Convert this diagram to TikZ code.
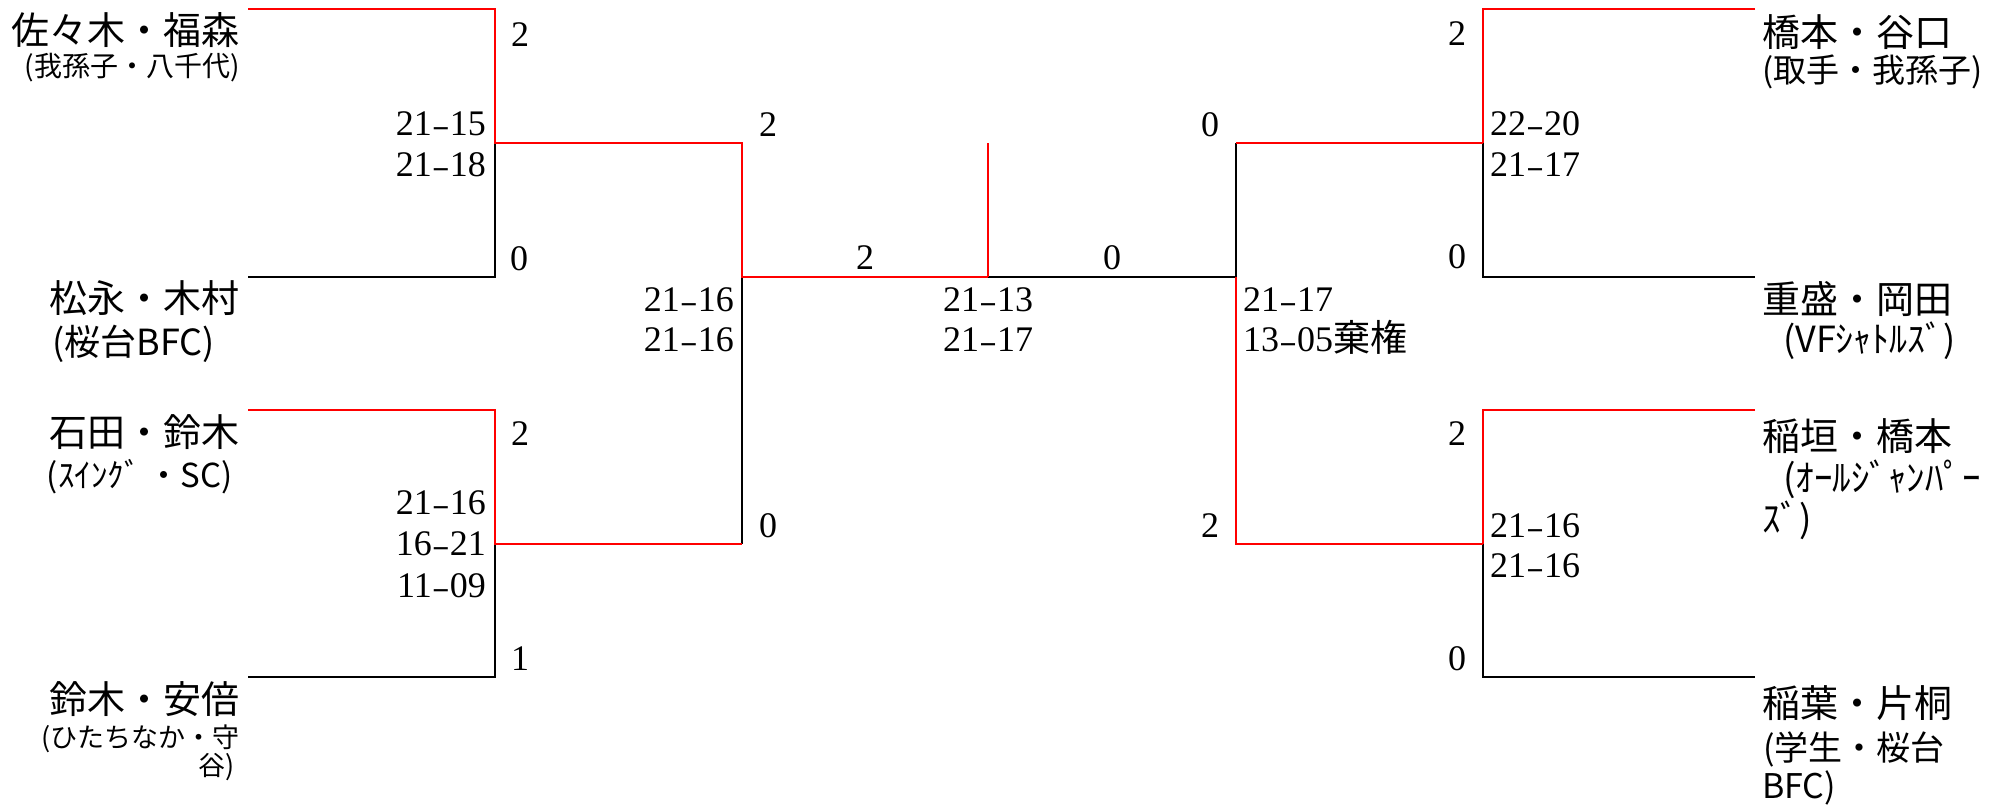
\documentclass[tikz,border=0pt]{standalone}
\usepackage{fontspec}
\setmainfont{Liberation Serif}
\newfontfamily\jp{Noto Sans CJK JP}
\newcommand\hy{\makebox[0.5em]{\scalebox{1.5}[0.8]{-}}}
\tikzset{
  ln/.style={line width=2pt, line join=miter},
  win/.style={ln, draw=red},
  lose/.style={ln, draw=black},
  thinwin/.style={line width=1.3pt, draw=red},
  nm/.style={inner sep=0pt, font=\jp\fontsize{38}{40}\selectfont},
  sub/.style={inner sep=0pt, font=\jp\fontsize{#1}{#1}\selectfont},
  sc/.style={inner sep=0pt, font=\fontsize{36}{40}\selectfont},
}
\begin{document}
\begin{tikzpicture}[x=1pt,y=-1pt]
\fill[white] (0,0) rectangle (2015,806);
\useasboundingbox (0,0) rectangle (2015,806);
% corner coordinates
\coordinate (a1) at (248,9);   \coordinate (a2) at (495,9);
\coordinate (a3) at (495,143); \coordinate (a4) at (495,277);
\coordinate (a5) at (248,277);
\coordinate (b1) at (248,410); \coordinate (b2) at (495,410);
\coordinate (b3) at (495,544); \coordinate (b4) at (495,677);
\coordinate (b5) at (248,677);
\coordinate (m1) at (742,143); \coordinate (m2) at (742,277);
\coordinate (m3) at (742,544);
\coordinate (f1) at (988,143); \coordinate (f2) at (988,277);
\coordinate (n1) at (1236,143); \coordinate (n2) at (1236,277);
\coordinate (n3) at (1236,544);
\coordinate (d1) at (1755,9);   \coordinate (d2) at (1483,9);
\coordinate (d3) at (1483,143); \coordinate (d4) at (1483,277);
\coordinate (d5) at (1755,277);
\coordinate (e1) at (1755,410); \coordinate (e2) at (1483,410);
\coordinate (e3) at (1483,544); \coordinate (e4) at (1483,677);
\coordinate (e5) at (1755,677);
% losing lines
\draw[lose] (a3) -- (a4) -- (a5);
\draw[lose] (b3) -- (b4) -- (b5);
\draw[lose] (m3) -- (m2);
\draw[lose] (f2) -- (n2) -- (n1);
\draw[lose] (d3) -- (d4) -- (d5);
\draw[lose] (e3) -- (e4) -- (e5);
% winning lines
\draw[win] (a1) -- (a2) -- (a3) -- (m1) -- (m2) -- (f2);
\draw[thinwin] (f2) -- (f1);
\draw[win] (b1) -- (b2) -- (b3) -- (m3);
\draw[win] (n1) -- (d3);
\draw[win] (d1) -- (d2) -- (d3);
\draw[win] (n2) -- (n3) -- (e3);
\draw[win] (e1) -- (e2) -- (e3);
% left names
\node[nm, anchor=base east] (L1) at (240,44) {佐々木・福森};
\node[sub=28, anchor=base east] (L1s) at (240,76) {(我孫子・八千代)};
\node[nm, anchor=base east] (L2) at (240,312) {松永・木村};
\node[sub=36, anchor=base west] (L2s) at (52,355) {(桜台BFC)};
\node[nm, anchor=base east] (L3) at (240,446) {石田・鈴木};
\node[sub=33, anchor=base east] (L3s) at (233,487) {(ｽｲﾝｸﾞ ・SC)};
\node[nm, anchor=base east] (L4) at (240,713) {鈴木・安倍};
\node[sub=27, anchor=base east] (L4s) at (240,747) {(ひたちなか・守};
\node[sub=27, anchor=base east] (L4t) at (235,775) {谷)};
% right names
\node[nm, anchor=base west] (R1) at (1762,46) {橋本・谷口};
\node[sub=33, anchor=base west] (R1s) at (1762,82) {(取手・我孫子)};
\node[nm, anchor=base west] (R2) at (1762,313) {重盛・岡田};
\node[sub=36, anchor=base west] (R2s) at (1783,352) {(VFｼｬﾄﾙｽﾞ)};
\node[nm, anchor=base west] (R3) at (1762,450) {稲垣・橋本};
\node[sub=37, anchor=base west] (R3s) at (1783,491) {(ｵｰﾙｼﾞｬﾝﾊﾟｰ};
\node[sub=37, anchor=base west] (R3t) at (1762,532) {ｽﾞ)};
\node[nm, anchor=base west] (R4) at (1762,717) {稲葉・片桐};
\node[sub=34, anchor=base west] (R4s) at (1763,760) {(学生・桜台};
\node[sub=34, anchor=base west] (R4t) at (1762,798) {BFC)};
% left first round scores
\node[sc, anchor=base west] (s1) at (511,46) {2};
\node[sc, anchor=base west] (s2) at (510,270) {0};
\node[sc, anchor=base east] (g1a) at (486,135) {21\hy15};
\node[sc, anchor=base east] (g1b) at (486,176) {21\hy18};
\node[sc, anchor=base west] (s3) at (511,445) {2};
\node[sc, anchor=base east] (g2a) at (486,514) {21\hy16};
\node[sc, anchor=base east] (g2b) at (486,555) {16\hy21};
\node[sc, anchor=base east] (g2c) at (486,597) {11\hy09};
\node[sc, anchor=base west] (s4) at (511,670) {1};
% left second round
\node[sc, anchor=base] (s5) at (768,136) {2};
\node[sc, anchor=base] (s6) at (768,537) {0};
\node[sc, anchor=base east] (g3a) at (734,311) {21\hy16};
\node[sc, anchor=base east] (g3b) at (734,351) {21\hy16};
% final
\node[sc, anchor=base] (s7) at (865,269) {2};
\node[sc, anchor=base] (s8) at (1112,269) {0};
\node[sc, anchor=base] (g4a) at (988,311) {21\hy13};
\node[sc, anchor=base] (g4b) at (988,351) {21\hy17};
% right second round
\node[sc, anchor=base] (s9) at (1210,136) {0};
\node[sc, anchor=base] (s10) at (1210,537) {2};
\node[sc, anchor=base west] (g5a) at (1243,311) {21\hy17};
\node[sc, anchor=base west] (g5b) at (1243,351) {13\hy05{\jp\fontsize{37}{37}\selectfont 棄権}};
% right first round
\node[sc, anchor=base] (s11) at (1457,45) {2};
\node[sc, anchor=base] (s12) at (1457,268) {0};
\node[sc, anchor=base west] (g6a) at (1490,135) {22\hy20};
\node[sc, anchor=base west] (g6b) at (1490,176) {21\hy17};
\node[sc, anchor=base] (s13) at (1457,445) {2};
\node[sc, anchor=base west] (g7a) at (1490,537) {21\hy16};
\node[sc, anchor=base west] (g7b) at (1490,577) {21\hy16};
\node[sc, anchor=base] (s14) at (1457,670) {0};
\end{tikzpicture}
\end{document}
